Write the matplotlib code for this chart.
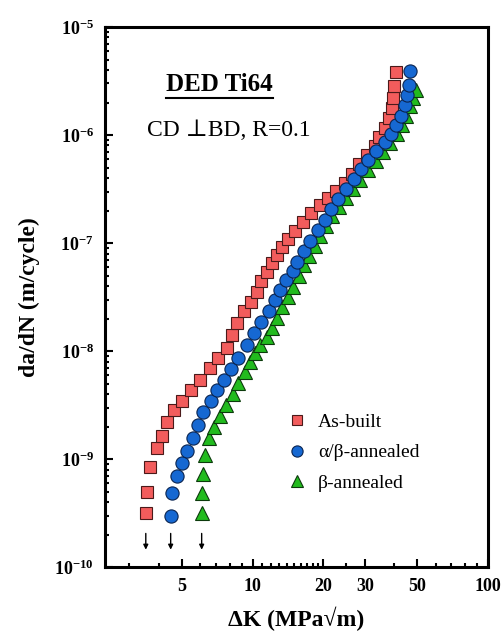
import numpy as np
import matplotlib
matplotlib.use('Agg')
import matplotlib.pyplot as plt
from matplotlib.ticker import FixedLocator, FuncFormatter, LogLocator, NullFormatter
from matplotlib.lines import Line2D

plt.rcParams['font.family'] = ['Liberation Serif', 'DejaVu Serif']
plt.rcParams['mathtext.fontset'] = 'custom'
plt.rcParams['mathtext.rm'] = 'Liberation Serif'
plt.rcParams['mathtext.bf'] = 'Liberation Serif:bold'

# fatigue crack growth data, DED Ti-6Al-4V, CD perpendicular to BD, R = 0.1
dk_asbuilt = [3.52, 3.55, 3.66, 3.92, 4.12, 4.32, 4.63, 5.00, 5.46, 5.96, 6.57, 7.11,
              7.76, 8.15, 8.55, 9.16, 9.81, 10.4, 10.9, 11.5, 12.15, 12.76, 13.4, 14.2,
              15.2, 16.4, 17.8, 19.4, 21.0, 22.7, 24.8, 26.5, 28.4, 30.7, 33.2, 34.5,
              36.6, 38.1, 39.2, 39.6, 40.0, 40.8]
dadn_asbuilt = [3.16e-10, 4.95e-10, 8.43e-10, 1.26e-9, 1.63e-9, 2.20e-9, 2.84e-9, 3.44e-9,
                4.35e-9, 5.39e-9, 6.97e-9, 8.61e-9, 1.07e-8, 1.41e-8, 1.82e-8, 2.35e-8,
                2.84e-8, 3.52e-8, 4.45e-8, 5.39e-8, 6.53e-8, 7.74e-8, 9.18e-8, 1.09e-7,
                1.29e-7, 1.56e-7, 1.90e-7, 2.25e-7, 2.61e-7, 3.03e-7, 3.59e-7, 4.36e-7,
                5.39e-7, 6.53e-7, 7.91e-7, 9.58e-7, 1.16e-6, 1.44e-6, 1.78e-6, 2.20e-6,
                2.84e-6, 3.83e-6]

dk_ab = [4.49, 4.54, 4.76, 5.00, 5.25, 5.57, 5.85, 6.14, 6.64, 7.04, 7.54, 8.07, 8.64,
         9.43, 10.1, 10.9, 11.7, 12.4, 13.1, 13.9, 14.8, 15.5, 16.6, 17.6, 18.9, 20.4,
         21.6, 23.1, 25.0, 27.1, 29.0, 31.0, 33.5, 36.6, 38.8, 40.8, 42.8, 44.5, 45.4,
         46.3, 46.7]
dadn_ab = [2.97e-10, 4.84e-10, 6.97e-10, 9.18e-10, 1.19e-9, 1.56e-9, 2.07e-9, 2.72e-9,
           3.44e-9, 4.35e-9, 5.39e-9, 6.81e-9, 8.61e-9, 1.14e-8, 1.47e-8, 1.86e-8,
           2.35e-8, 2.97e-8, 3.67e-8, 4.54e-8, 5.51e-8, 6.67e-8, 8.43e-8, 1.04e-7,
           1.32e-7, 1.63e-7, 2.07e-7, 2.55e-7, 3.16e-7, 3.91e-7, 4.84e-7, 5.87e-7,
           7.11e-7, 8.61e-7, 1.02e-6, 1.24e-6, 1.50e-6, 1.90e-6, 2.35e-6, 2.90e-6,
           3.91e-6]

dk_b = [6.08, 6.08, 6.14, 6.26, 6.51, 6.83, 7.25, 7.68, 8.23, 8.64, 9.25, 9.71, 10.2,
        10.8, 11.5, 12.15, 12.76, 13.4, 14.1, 14.9, 15.8, 16.6, 17.4, 18.5, 19.4, 20.6,
        21.8, 23.4, 25.0, 26.8, 28.7, 31.0, 33.5, 35.9, 38.4, 41.2, 43.2, 44.9, 46.7,
        48.1, 49.5]
dadn_b = [3.16e-10, 4.84e-10, 7.26e-10, 1.09e-9, 1.56e-9, 1.98e-9, 2.50e-9, 3.16e-9,
          4.00e-9, 5.06e-9, 6.40e-9, 7.91e-9, 9.58e-9, 1.14e-8, 1.35e-8, 1.63e-8,
          2.02e-8, 2.55e-8, 3.16e-8, 3.91e-8, 4.95e-8, 6.25e-8, 7.58e-8, 9.38e-8,
          1.16e-7, 1.44e-7, 1.78e-7, 2.16e-7, 2.61e-7, 3.16e-7, 3.83e-7, 4.74e-7,
          5.74e-7, 6.96e-7, 8.43e-7, 1.02e-6, 1.24e-6, 1.50e-6, 1.86e-6, 2.20e-6,
          2.61e-6]

x_major = [5, 10, 20, 30, 50, 100]
x_minor = [3, 4, 6, 7, 8, 9, 11, 12, 13, 14, 15, 16, 17, 18, 19, 25, 40, 60, 70, 80, 90]

fig = plt.figure(figsize=(5.02, 6.43), dpi=100)
ax = fig.add_axes([0.209, 0.118, 0.763, 0.840])

ax.plot(dk_asbuilt, dadn_asbuilt, 's', ms=8.5, mfc='#f25c5c', mec='#4a1a1a', mew=0.8,
        label='As-built', zorder=3)
ax.plot(dk_b, dadn_b, '^', ms=10, mfc='#22bb1e', mec='#0c3a0c', mew=0.8,
        label=r'β-annealed', zorder=2)
ax.plot(dk_ab, dadn_ab, 'o', ms=9.5, mfc='#1668d2', mec='#0a2450', mew=0.8,
        label=r'α/β-annealed', zorder=4)

# threshold arrows below the first point of each series
for k in (dk_asbuilt[0], dk_ab[0], dk_b[0]):
    ax.annotate('', xy=(k, 1.45e-10), xytext=(k, 2.05e-10),
                arrowprops=dict(arrowstyle='-|>', color='black', lw=1.0,
                                mutation_scale=7, shrinkA=0, shrinkB=0))

ax.set_xscale('log')
ax.set_yscale('log')
ax.set_xlim(2.36, 100)
ax.set_ylim(1e-10, 1e-5)

ax.xaxis.set_major_locator(FixedLocator(x_major))
ax.xaxis.set_minor_locator(FixedLocator(x_minor))
ax.xaxis.set_major_formatter(FuncFormatter(lambda v, p: '%d' % v))
ax.xaxis.set_minor_formatter(NullFormatter())
ax.yaxis.set_major_locator(LogLocator(base=10, numticks=10))
ax.yaxis.set_minor_locator(LogLocator(base=10, subs=np.arange(2, 10), numticks=20))
ax.yaxis.set_major_formatter(FuncFormatter(lambda v, p: r'$\mathbf{10^{%d}}$' % round(np.log10(v))))
ax.yaxis.set_minor_formatter(NullFormatter())

ax.tick_params(which='both', direction='in', top=False, right=False, width=1.5)
ax.tick_params(which='major', length=6, labelsize=13, pad=8)
ax.tick_params(which='minor', length=3)
for lab in ax.get_xticklabels():
    lab.set_fontweight('bold')
for s in ax.spines.values():
    s.set_linewidth(2.2)

ax.set_xlabel('ΔK (MPa√m)', fontsize=17, fontweight='bold', labelpad=8)
ax.set_ylabel('da/dN (m/cycle)', fontsize=17, fontweight='bold', labelpad=10)

title = ax.text(0.30, 0.893, 'DED Ti64', transform=ax.transAxes, ha='center', va='center',
                fontsize=18, fontweight='bold')
ax.text(0.11, 0.809, 'CD ⊥BD, R=0.1', transform=ax.transAxes, ha='left', va='center',
        fontsize=17)

h, l = ax.get_legend_handles_labels()
order = [0, 2, 1]
ax.legend([h[i] for i in order], [l[i] for i in order], loc='center left',
          bbox_to_anchor=(0.475, 0.212), frameon=False, fontsize=14, handlelength=1.0,
          handletextpad=0.6, labelspacing=0.68, borderpad=0, borderaxespad=0,
          markerscale=0.85)

# underline for the heading
fig.canvas.draw()
bb = title.get_window_extent().transformed(fig.transFigure.inverted())
fig.add_artist(Line2D([bb.x0, bb.x1], [bb.y0 - 0.002, bb.y0 - 0.002], color='black',
                      lw=1.5, transform=fig.transFigure))

fig.savefig('out.png', dpi=100)
